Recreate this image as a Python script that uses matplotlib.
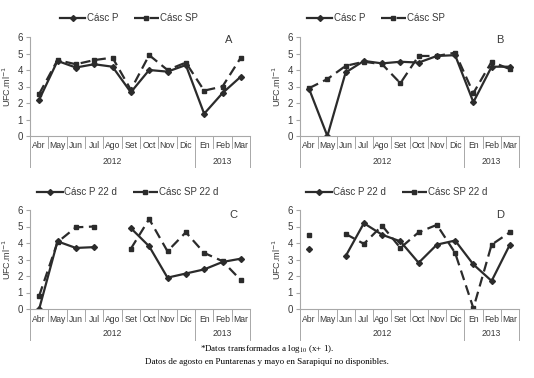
import numpy as np
import matplotlib
matplotlib.use("Agg")
import matplotlib.pyplot as plt

months = ["Abr", "May", "Jun", "Jul", "Ago", "Set", "Oct", "Nov", "Dic", "En", "Feb", "Mar"]
years = ["2012", "2013"]
nan = np.nan

a_p = [2.2, 4.55, 4.15, 4.35, 4.2, 2.65, 4.0, 3.9, 4.3, 1.35, 2.6, 3.6]
a_sp = [2.55, 4.6, 4.35, 4.6, 4.75, 2.8, 4.9, 4.0, 4.45, 2.75, 3.0, 4.75]
b_p = [2.85, 0.0, 3.85, 4.55, 4.4, 4.5, 4.45, 4.85, 4.9, 2.05, 4.2, 4.2]
b_sp = [2.9, 3.45, 4.25, 4.5, 4.35, 3.2, 4.85, 4.85, 5.05, 2.6, 4.5, 4.05]
c_p = [0.0, 4.1, 3.7, 3.75, nan, 4.9, 3.8, 1.9, 2.15, 2.4, 2.85, 3.05]
c_sp = [0.8, 4.05, 4.95, 5.0, nan, 3.65, 5.45, 3.5, 4.65, 3.4, 2.9, 1.75]
d_p = [3.65, nan, 3.2, 5.2, 4.5, 4.1, 2.8, 3.9, 4.15, 2.7, 1.7, 3.9]
d_sp = [4.5, nan, 4.55, 3.95, 5.05, 3.7, 4.65, 5.1, 3.4, 0.05, 3.9, 4.65]

panels = [
    ("A", a_p, a_sp, "Cásc P", "Cásc SP"),
    ("B", b_p, b_sp, "Cásc P", "Cásc SP"),
    ("C", c_p, c_sp, "Cásc P 22 d", "Cásc SP 22 d"),
    ("D", d_p, d_sp, "Cásc P 22 d", "Cásc SP 22 d"),
]

W, H = 534, 378
fig = plt.figure(figsize=(W / 100, H / 100), dpi=100)
plt.rcParams['font.family'] = ['Liberation Sans', 'DejaVu Sans']

# pixel boxes: left, top, right, bottom
boxes = [(30, 37, 250, 136), (300, 37, 519, 136), (30, 210, 250, 309), (300, 210, 519, 309)]
legend_pos = [(129, 18), (376, 18), (128, 192), (397, 192)]
letter_pos = [(229, 40), (500, 40), (233, 215), (500, 215)]

col = "#2b2b2b"
gray = "#a8a8a8"
tcol = "#3a3a3a"

for i, (letter, p, sp, lp, lsp) in enumerate(panels):
    l, t, r, b = boxes[i]
    ax = fig.add_axes([l / W, 1 - b / H, (r - l) / W, (b - t) / H])
    x = np.arange(len(months))
    ax.plot(x, p, color=col, lw=1.6, marker="D", ms=3.0, label=lp)
    ax.plot(x, sp, color=col, lw=1.6, ls=(0, (4.5, 2.5)), marker="s", ms=3.0, label=lsp)
    ax.set_xlim(-0.5, 11.5)
    ax.set_ylim(0, 6)
    ax.set_yticks(range(7))
    ax.tick_params(axis="y", labelsize=7, length=3, color=gray, pad=2, labelcolor=tcol)
    ax.set_xticks([])
    for s in ["top", "right"]:
        ax.spines[s].set_visible(False)
    for s in ["left", "bottom"]:
        ax.spines[s].set_color(gray)
        ax.spines[s].set_linewidth(0.8)
    ax.set_ylabel("UFC.ml$^{-1}$", fontsize=6.5, labelpad=3, color=tcol)
    # category separators
    trans = ax.get_xaxis_transform()
    hpx = b - t
    m_len = 12 / hpx
    y_len = 31 / hpx
    for k in range(13):
        xx = k - 0.5
        ln = y_len if k in (0, 9, 12) else m_len
        ax.plot([xx, xx], [0, -ln], transform=trans, color=gray, lw=0.7, clip_on=False)
    for k, m in enumerate(months):
        ax.text(k, -10 / hpx, m, transform=trans, ha="center", va="center", fontsize=6.2, color=tcol)
    ax.text(4, -25 / hpx, years[0], transform=trans, ha="center", va="center", fontsize=6.2, color=tcol)
    ax.text(10, -25 / hpx, years[1], transform=trans, ha="center", va="center", fontsize=6.2, color=tcol)
    lx, ly = letter_pos[i]
    fig.text(lx / W, 1 - ly / H, letter, ha="center", va="center", fontsize=8, color=tcol)
    gx, gy = legend_pos[i]
    fig.legend(*ax.get_legend_handles_labels(), loc="center", bbox_to_anchor=(gx / W, 1 - gy / H),
               ncol=2, frameon=False, fontsize=7, handlelength=2.6, columnspacing=1.6,
               handletextpad=0.15, borderpad=0, labelcolor=tcol)

fig.text(0.5, 1 - 349 / H, "*Datos transformados a log$_{10}$ (x+ 1).",
         ha="center", va="center", fontsize=6.5, family=["Liberation Serif", "DejaVu Serif"],
         math_fontfamily="stix")
fig.text(0.5, 1 - 362 / H, "Datos de agosto en Puntarenas y mayo en Sarapiquí no disponibles.",
         ha="center", va="center", fontsize=6.5, family=["Liberation Serif", "DejaVu Serif"])

fig.savefig("out.png", dpi=100)
